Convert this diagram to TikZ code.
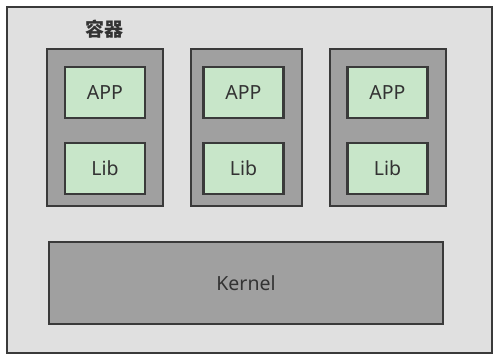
\documentclass[tikz,border=0pt]{standalone}
\usepackage{fontspec}
\setmainfont{Noto Sans}
\newfontfamily\cjk{Noto Sans CJK SC}
\definecolor{outerfill}{HTML}{E0E0E0}
\definecolor{boxline}{HTML}{3A3A3A}
\definecolor{contfill}{HTML}{A0A0A0}
\definecolor{greenfill}{HTML}{C8E6C9}
\definecolor{txt}{HTML}{333333}
\begin{document}
\begin{tikzpicture}[x=1pt,y=-1pt,
  outerbox/.style={draw=boxline,fill=outerfill,line width=2.4pt},
  contbox/.style={draw=boxline,fill=contfill,line width=2.8pt},
  greenbox/.style={draw=boxline,fill=greenfill,line width=2.8pt,text=txt,inner sep=0pt,
    minimum width=80pt,minimum height=51pt,font=\fontsize{19.5}{22}\selectfont},
  kernelbox/.style={draw=boxline,fill=contfill,line width=2.8pt,text=txt,inner sep=0pt,font=\fontsize{19.5}{22}\selectfont},
  ttl/.style={text=txt,font=\cjk\bfseries\fontsize{19}{22}\selectfont}]
\useasboundingbox (0,0) rectangle (500,360);
\fill[white] (0,0) rectangle (500,360);
\draw[outerbox] (7,7) rectangle (492,353);
\node[ttl] (title) at (104,29) {容器};
\foreach \i/\cl/\cr/\bc in {1/47/163/105,2/191/302/243.5,3/330/446/387.5}{
  \draw[contbox] (\cl,49) rectangle (\cr,206);
  \node[greenbox] (app\i) at (\bc,92.5) {APP};
  \node[greenbox] (lib\i) at (\bc,168.5) {Lib};
}
\node[kernelbox,minimum width=394pt,minimum height=82pt] (kernel) at (246,283) {Kernel};
\end{tikzpicture}
\end{document}
